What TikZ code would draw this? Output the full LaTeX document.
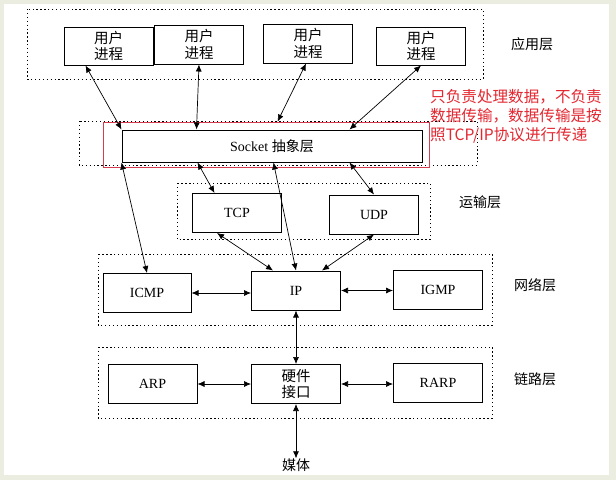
\documentclass[tikz,border=0pt]{standalone}
\usepackage{fontspec}
\setmainfont{Liberation Serif}
\newfontfamily\cjk{Noto Sans CJK SC}
\usetikzlibrary{arrows.meta,calc}
\definecolor{bgframe}{RGB}{236,237,225}
\definecolor{notered}{RGB}{228,40,50}
\definecolor{rectred}{RGB}{214,60,80}
\begin{document}
\begin{tikzpicture}[x=1pt,y=-1pt,
  box/.style={draw, line width=1pt, minimum width=89pt, minimum height=39pt, inner sep=0pt, align=center, font=\fontsize{14}{16}\selectfont},
  cbox/.style={box, font=\cjk\fontsize{14.5}{16.5}\selectfont},
  layer/.style={draw, dash pattern=on 1.3pt off 2.6pt, line width=1pt},
  lbl/.style={inner sep=0pt, font=\cjk\fontsize{14}{16}\selectfont},
  link/.style={{Latex[length=7pt,width=6pt]}-{Latex[length=7pt,width=6pt]}, line width=0.7pt}]
\fill[bgframe] (0,0) rectangle (616,480);
\fill[white] (4,4) rectangle (609,475);
\useasboundingbox (0,0) rectangle (616,480);
% layers
\draw[layer] (27,9) rectangle (483,79);
\draw[layer] (79,121) rectangle (477,165);
\draw[layer] (177,183) rectangle (430,239);
\draw[layer] (98,254) rectangle (492,325);
\draw[layer] (98,347) rectangle (492,418);
% red selection
\node[draw=rectred, line width=0.9pt, minimum width=326.5pt, minimum height=45pt, inner sep=0pt] (sel) at (266.25,144.5) {};
\node[anchor=west, align=left, inner sep=0pt, text=notered, font=\cjk\fontsize{15.6}{19}\selectfont] (note) at (430,116)
  {只负责处理数据，不负责\\数据传输，数据传输是按\\照TCP/IP协议进行传递};
% boxes
\node[cbox, minimum height=38pt] (u1) at (108.5,46) {用户\\进程};
\node[cbox] (u2) at (199,44.5) {用户\\进程};
\node[cbox] (u3) at (308,43.5) {用户\\进程};
\node[cbox, minimum height=38pt] (u4) at (421,46) {用户\\进程};
\node[box, minimum width=300pt, minimum height=32pt] (socket) at (272,146) {Socket {\cjk 抽象层}};
\node[box] (tcp) at (237,213) {TCP};
\node[box] (udp) at (374,214.5) {UDP};
\node[box, minimum width=88pt] (icmp) at (147,293) {ICMP};
\node[box] (ip) at (296,290.5) {IP};
\node[box] (igmp) at (438,289.5) {IGMP};
\node[box] (arp) at (152.5,384) {ARP};
\node[cbox] (hw) at (296,384) {硬件\\接口};
\node[box] (rarp) at (438,383) {RARP};
% labels
\node[lbl] (l1) at (532,44) {应用层};
\node[lbl] (l2) at (480,202) {运输层};
\node[lbl] (l3) at (535,285) {网络层};
\node[lbl] (l4) at (535,379) {链路层};
\node[lbl] (media) at (296,465) {媒体};
% connectors
\draw[link] ($(u1.south west)+(22,0)$) -- (socket.north west);
\draw[link] (u2.south) -- ($(socket.north west)+(75,0)$);
\draw[link] ($(u3.south)+(-2,0)$) -- ($(sel.north west)+(175,0)$);
\draw[link] (u4.south) -- ($(socket.north west)+(228,0)$);
\draw[link] (socket.south west) -- (icmp.north);
\draw[link] ($(socket.south west)+(76,0)$) -- ($(tcp.north west)+(22.5,0)$);
\draw[link] ($(socket.south west)+(152,0)$) -- (ip.north);
\draw[link] ($(socket.south west)+(228,0)$) -- (udp.north);
\draw[link] ($(tcp.south west)+(25,0)$) -- ($(ip.north west)+(22,0)$);
\draw[link] (udp.south) -- ($(ip.north west)+(71,0)$);
\draw[link] (icmp.east) -- (icmp.east -| ip.west);
\draw[link] (ip.east) -- (ip.east -| igmp.west);
\draw[link] (ip.south) -- (hw.north);
\draw[link] (arp.east) -- (hw.west);
\draw[link] (hw.east) -- (hw.east -| rarp.west);
\draw[link] (hw.south) -- (media.north);
\end{tikzpicture}
\end{document}
